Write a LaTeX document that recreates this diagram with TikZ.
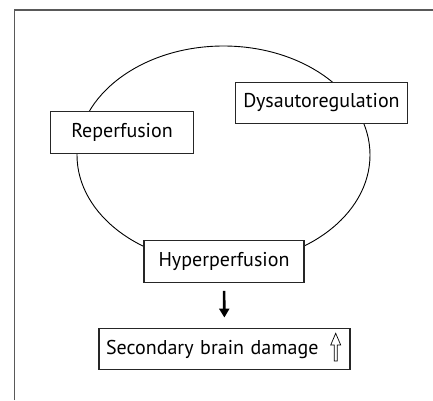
\documentclass[tikz,border=0pt]{standalone}
\usepackage{fontspec}
\setmainfont{PT Sans}
\usetikzlibrary{arrows.meta,positioning,shapes.geometric}

\begin{document}
\begin{tikzpicture}[
    x=1pt, y=-1pt,
    font=\fontsize{20}{23}\selectfont,
    stage/.style={
      draw=black!85, line width=1.2pt, fill=white, align=center,
      minimum height=41.7pt, inner sep=3pt
    }
  ]
    \useasboundingbox (0,0) rectangle (433,400);
    \draw[black!65, line width=1.4pt] (14.7,400) -- (14.7,10) -- (433,10);

    \node[draw, ellipse, line width=0.9pt, minimum width=293pt, minimum height=218pt] (loop) at (223.5,155) {};

    \node[stage, minimum width=142.7pt] (rep) at (122,132.5) {Reperfusion};
    \node[stage, minimum width=171.7pt] (dys) at (321.5,103) {Dysautoregulation};
    \node[stage, minimum width=160pt] (hyp) at (224,261.5) {Hyperperfusion};
    \node[stage, text width=237pt, inner xsep=7pt, align=left] (sec) at (224.5,349) {Secondary brain damage};

    \draw[line width=2.6pt, -{Triangle[length=9pt, width=10pt]}, shorten <=8pt, shorten >=10pt] (hyp.south) -- (sec.north);

    \coordinate (up) at (335.7,333.3);
    \draw[line width=0.7pt, line join=miter] (up) -- ++(5,11.7) -- ++(-3.5,0) -- ++(0,16) -- ++(-3,0) -- ++(0,-16) -- ++(-3.5,0) -- cycle;
  \end{tikzpicture}
\end{document}
